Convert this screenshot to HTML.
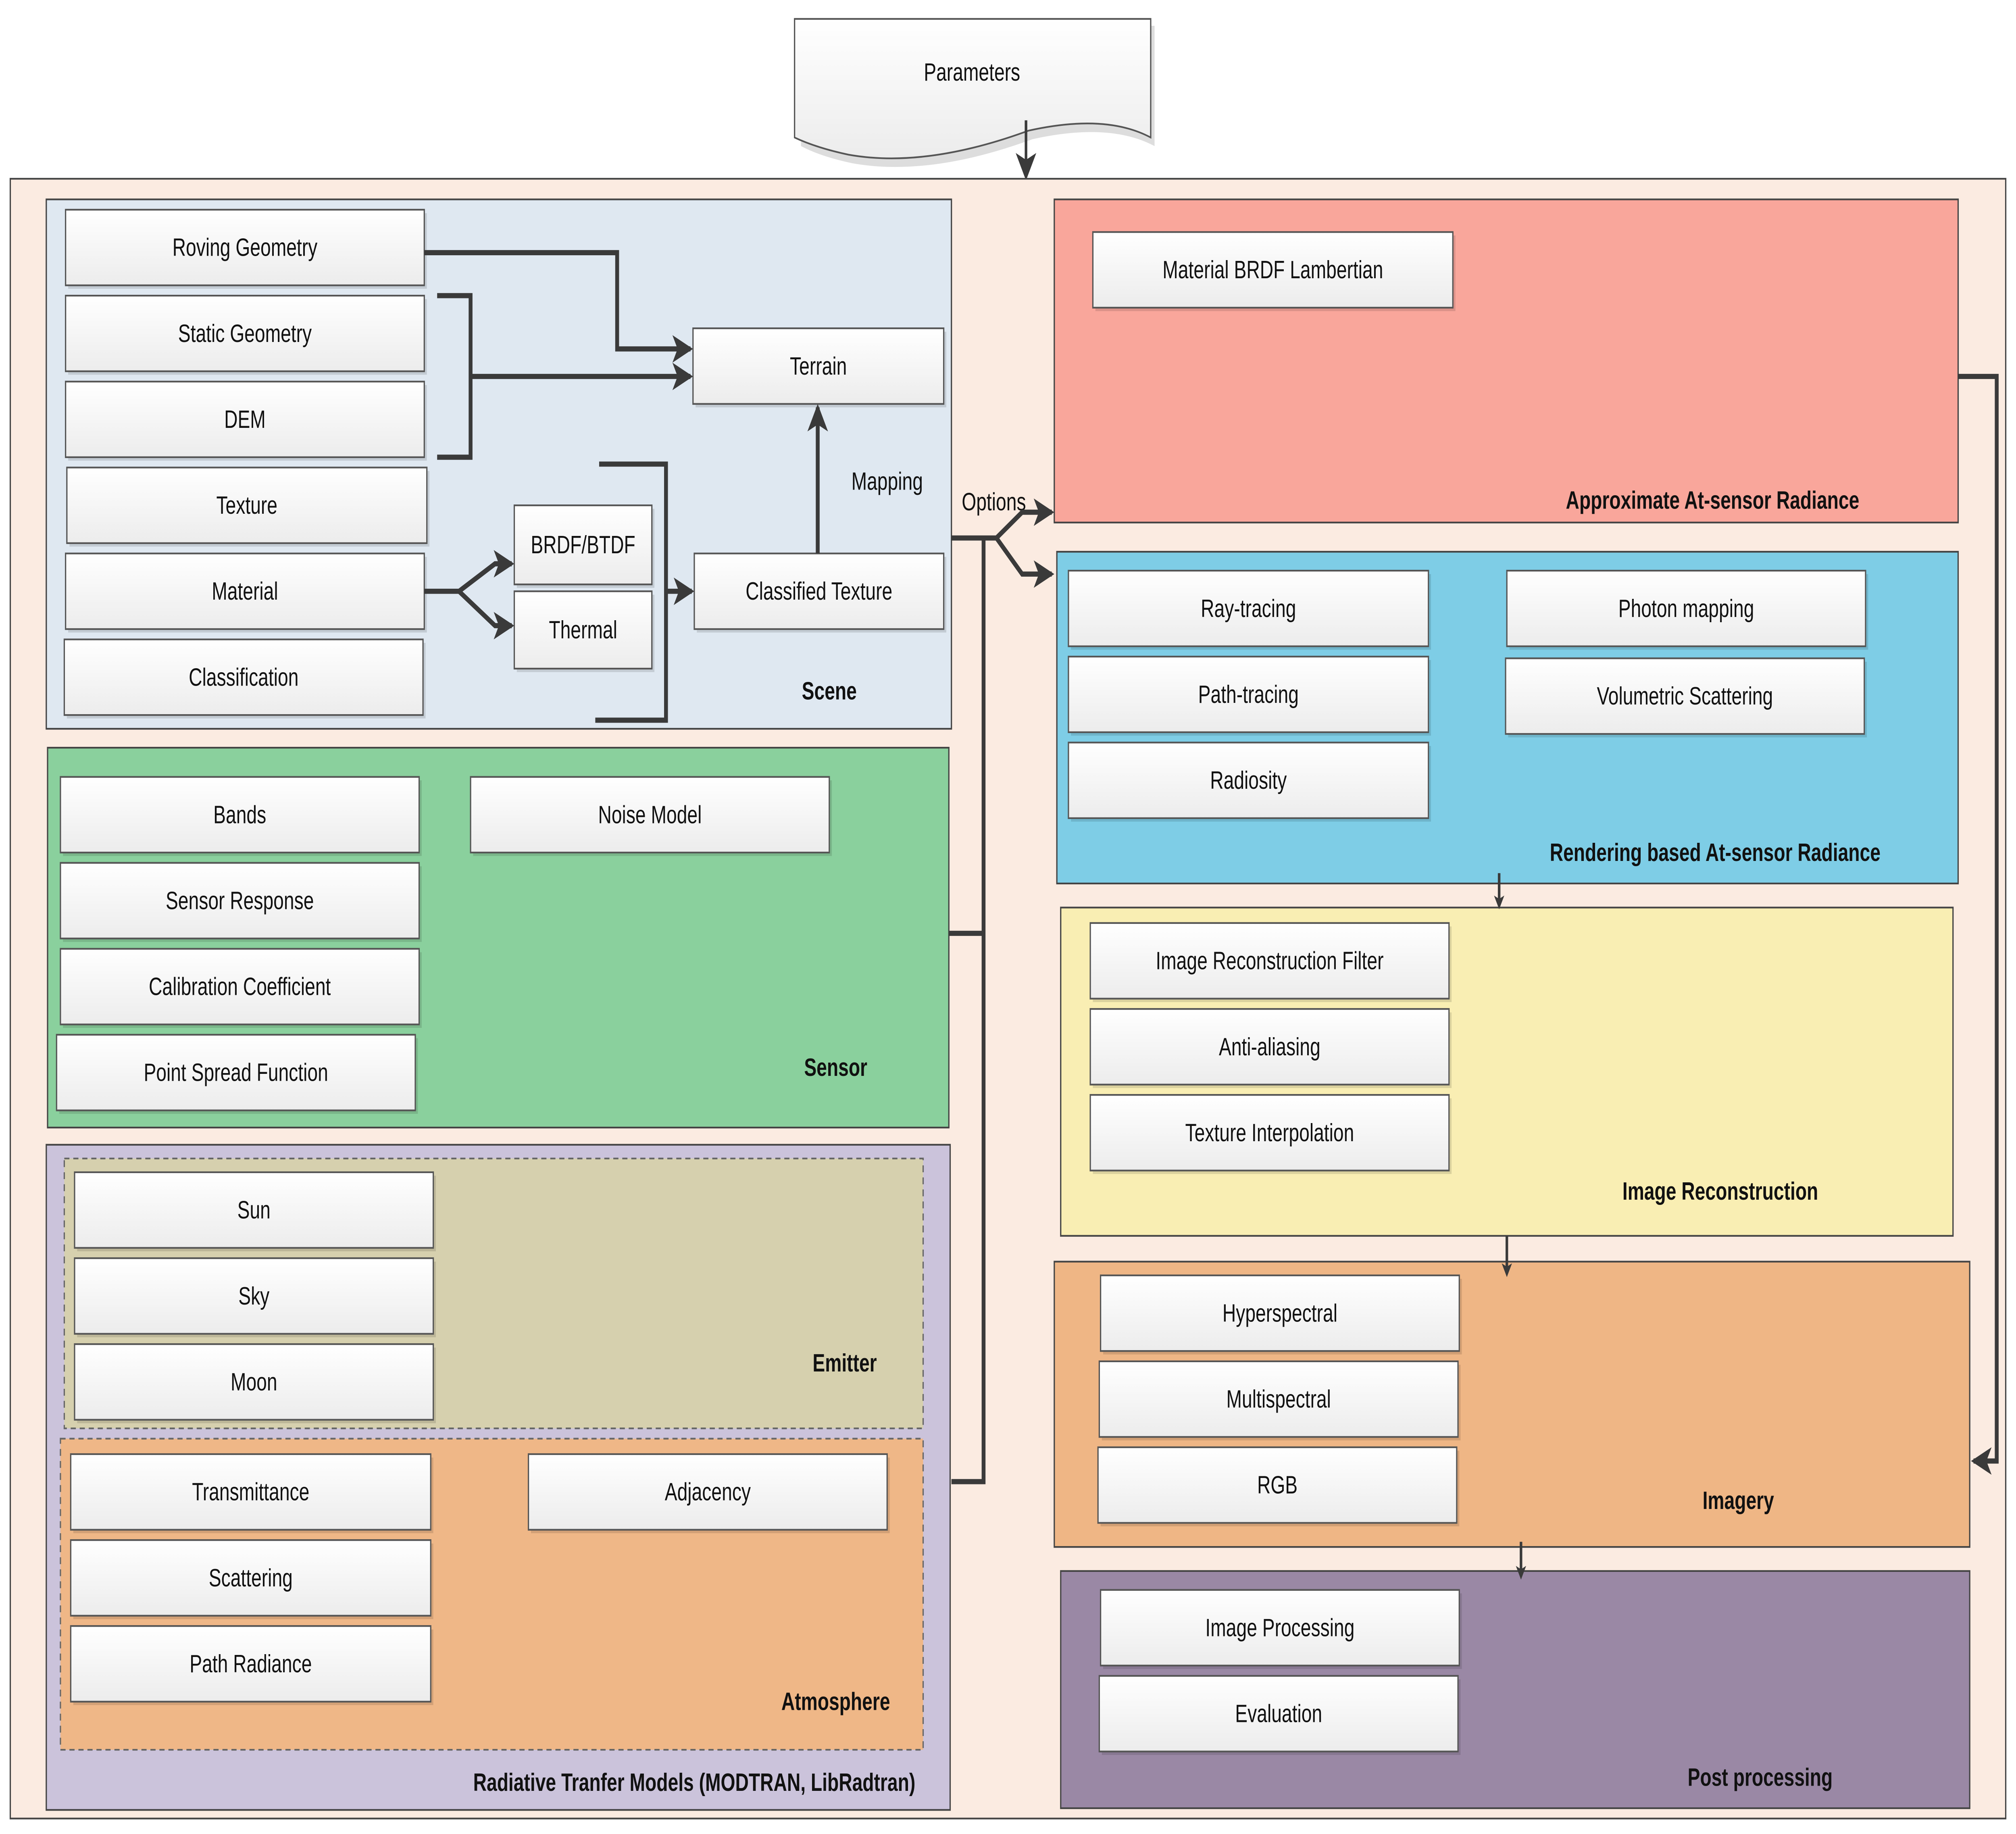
<!DOCTYPE html>
<html><head><meta charset="utf-8">
<style>
html,body{margin:0;padding:0;background:#fff;width:100%;height:100%;overflow:hidden}
svg{display:block;position:fixed;left:0;top:0;width:100vw;height:100vh}
text{font-family:"Liberation Sans",sans-serif;fill:#111}
.t{font-size:14.5px;text-anchor:middle;dominant-baseline:central}
.l{font-size:14.5px;font-weight:bold;text-anchor:middle;dominant-baseline:central}
.ln{stroke:#3a3a3a;stroke-width:3;fill:none}
.th{stroke:#3a3a3a;stroke-width:2;fill:none}
</style></head><body>
<svg viewBox="0 0 1568 1067" preserveAspectRatio="none" xmlns="http://www.w3.org/2000/svg">
<defs>
<linearGradient id="g" x1="0" y1="0" x2="0" y2="1"><stop offset="0" stop-color="#ffffff"/><stop offset="1" stop-color="#ececec"/></linearGradient>
<marker id="a" markerWidth="8" markerHeight="8" refX="6" refY="4" orient="auto" markerUnits="userSpaceOnUse" viewBox="0 0 8 8"><path d="M0,0 L8,4 L0,8 L2,4 Z" fill="#3a3a3a"/></marker>
<marker id="b" markerWidth="16" markerHeight="16" refX="14" refY="8" orient="auto" markerUnits="userSpaceOnUse" viewBox="0 0 16 16"><path d="M0,0 L16,8 L0,16 L4,8 Z" fill="#3a3a3a"/></marker>
</defs>
<path d="M620,12 L895,12 L895,82 Q860,68 800,78 Q720,100 660,92 Q635,88 620,82 Z" fill="#ddd" transform="translate(3,3)"/>
<path d="M618,11 L895,11 L895,80 Q860,66 800,76 Q720,98 660,90 Q635,86 618,80 Z" fill="url(#g)" stroke="#555" stroke-width="1"/>
<text class="t" x="756" y="42">Parameters</text>
<line class="th" x1="798" y1="70" x2="798" y2="103" marker-end="url(#b)"/>
<rect x="8" y="104" width="1552" height="954" fill="#fbebe1" stroke="#444" stroke-width="1"/>
<rect x="36" y="116" width="704" height="308" fill="#dfe8f1" stroke="#444" stroke-width="1"/>
<rect x="37" y="435" width="701" height="221" fill="#8ad09d" stroke="#444" stroke-width="1"/>
<rect x="36" y="666" width="703" height="387" fill="#cbc3db" stroke="#444" stroke-width="1"/>
<rect x="50" y="674" width="668" height="157" fill="#d6d0ae" stroke="#666" stroke-width="1" stroke-dasharray="4,3"/>
<rect x="47" y="837" width="671" height="181" fill="#efb787" stroke="#666" stroke-width="1" stroke-dasharray="4,3"/>
<rect x="820" y="116" width="703" height="188" fill="#f9a69b" stroke="#444" stroke-width="1"/>
<rect x="822" y="321" width="701" height="193" fill="#7ecde6" stroke="#444" stroke-width="1"/>
<rect x="825" y="528" width="694" height="191" fill="#f9eeb3" stroke="#444" stroke-width="1"/>
<rect x="820" y="734" width="712" height="166" fill="#efb685" stroke="#444" stroke-width="1"/>
<rect x="825" y="914" width="707" height="138" fill="#9a88a5" stroke="#444" stroke-width="1"/>
<g>
<g><rect x="53" y="124" width="279" height="44" fill="#000" opacity=".12"/><rect x="51" y="122" width="279" height="44" fill="url(#g)" stroke="#555"/><text class="t" x="190.5" y="144">Roving Geometry</text></g>
<g><rect x="53" y="174" width="279" height="44" fill="#000" opacity=".12"/><rect x="51" y="172" width="279" height="44" fill="url(#g)" stroke="#555"/><text class="t" x="190.5" y="194">Static Geometry</text></g>
<g><rect x="53" y="224" width="279" height="44" fill="#000" opacity=".12"/><rect x="51" y="222" width="279" height="44" fill="url(#g)" stroke="#555"/><text class="t" x="190.5" y="244">DEM</text></g>
<g><rect x="54" y="274" width="280" height="44" fill="#000" opacity=".12"/><rect x="52" y="272" width="280" height="44" fill="url(#g)" stroke="#555"/><text class="t" x="192" y="294">Texture</text></g>
<g><rect x="53" y="324" width="279" height="44" fill="#000" opacity=".12"/><rect x="51" y="322" width="279" height="44" fill="url(#g)" stroke="#555"/><text class="t" x="190.5" y="344">Material</text></g>
<g><rect x="52" y="374" width="279" height="44" fill="#000" opacity=".12"/><rect x="50" y="372" width="279" height="44" fill="url(#g)" stroke="#555"/><text class="t" x="189.5" y="394">Classification</text></g>
<g><rect x="402" y="296" width="107" height="46" fill="#000" opacity=".12"/><rect x="400" y="294" width="107" height="46" fill="url(#g)" stroke="#555"/><text class="t" x="453.5" y="317">BRDF/BTDF</text></g>
<g><rect x="402" y="346" width="107" height="45" fill="#000" opacity=".12"/><rect x="400" y="344" width="107" height="45" fill="url(#g)" stroke="#555"/><text class="t" x="453.5" y="366.5">Thermal</text></g>
<g><rect x="541" y="193" width="195" height="44" fill="#000" opacity=".12"/><rect x="539" y="191" width="195" height="44" fill="url(#g)" stroke="#555"/><text class="t" x="636.5" y="213">Terrain</text></g>
<g><rect x="542" y="324" width="194" height="44" fill="#000" opacity=".12"/><rect x="540" y="322" width="194" height="44" fill="url(#g)" stroke="#555"/><text class="t" x="637" y="344">Classified Texture</text></g>
<g><rect x="49" y="454" width="279" height="44" fill="#000" opacity=".12"/><rect x="47" y="452" width="279" height="44" fill="url(#g)" stroke="#555"/><text class="t" x="186.5" y="474">Bands</text></g>
<g><rect x="49" y="504" width="279" height="44" fill="#000" opacity=".12"/><rect x="47" y="502" width="279" height="44" fill="url(#g)" stroke="#555"/><text class="t" x="186.5" y="524">Sensor Response</text></g>
<g><rect x="49" y="554" width="279" height="44" fill="#000" opacity=".12"/><rect x="47" y="552" width="279" height="44" fill="url(#g)" stroke="#555"/><text class="t" x="186.5" y="574">Calibration Coefficient</text></g>
<g><rect x="46" y="604" width="279" height="44" fill="#000" opacity=".12"/><rect x="44" y="602" width="279" height="44" fill="url(#g)" stroke="#555"/><text class="t" x="183.5" y="624">Point Spread Function</text></g>
<g><rect x="368" y="454" width="279" height="44" fill="#000" opacity=".12"/><rect x="366" y="452" width="279" height="44" fill="url(#g)" stroke="#555"/><text class="t" x="505.5" y="474">Noise Model</text></g>
<g><rect x="60" y="684" width="279" height="44" fill="#000" opacity=".12"/><rect x="58" y="682" width="279" height="44" fill="url(#g)" stroke="#555"/><text class="t" x="197.5" y="704">Sun</text></g>
<g><rect x="60" y="734" width="279" height="44" fill="#000" opacity=".12"/><rect x="58" y="732" width="279" height="44" fill="url(#g)" stroke="#555"/><text class="t" x="197.5" y="754">Sky</text></g>
<g><rect x="60" y="784" width="279" height="44" fill="#000" opacity=".12"/><rect x="58" y="782" width="279" height="44" fill="url(#g)" stroke="#555"/><text class="t" x="197.5" y="804">Moon</text></g>
<g><rect x="57" y="848" width="280" height="44" fill="#000" opacity=".12"/><rect x="55" y="846" width="280" height="44" fill="url(#g)" stroke="#555"/><text class="t" x="195" y="868">Transmittance</text></g>
<g><rect x="57" y="898" width="280" height="44" fill="#000" opacity=".12"/><rect x="55" y="896" width="280" height="44" fill="url(#g)" stroke="#555"/><text class="t" x="195" y="918">Scattering</text></g>
<g><rect x="57" y="948" width="280" height="44" fill="#000" opacity=".12"/><rect x="55" y="946" width="280" height="44" fill="url(#g)" stroke="#555"/><text class="t" x="195" y="968">Path Radiance</text></g>
<g><rect x="413" y="848" width="279" height="44" fill="#000" opacity=".12"/><rect x="411" y="846" width="279" height="44" fill="url(#g)" stroke="#555"/><text class="t" x="550.5" y="868">Adjacency</text></g>
<g><rect x="852" y="137" width="280" height="44" fill="#000" opacity=".12"/><rect x="850" y="135" width="280" height="44" fill="url(#g)" stroke="#555"/><text class="t" x="990" y="157">Material BRDF Lambertian</text></g>
<g><rect x="833" y="334" width="280" height="44" fill="#000" opacity=".12"/><rect x="831" y="332" width="280" height="44" fill="url(#g)" stroke="#555"/><text class="t" x="971" y="354">Ray-tracing</text></g>
<g><rect x="833" y="384" width="280" height="44" fill="#000" opacity=".12"/><rect x="831" y="382" width="280" height="44" fill="url(#g)" stroke="#555"/><text class="t" x="971" y="404">Path-tracing</text></g>
<g><rect x="833" y="434" width="280" height="44" fill="#000" opacity=".12"/><rect x="831" y="432" width="280" height="44" fill="url(#g)" stroke="#555"/><text class="t" x="971" y="454">Radiosity</text></g>
<g><rect x="1174" y="334" width="279" height="44" fill="#000" opacity=".12"/><rect x="1172" y="332" width="279" height="44" fill="url(#g)" stroke="#555"/><text class="t" x="1311.5" y="354">Photon mapping</text></g>
<g><rect x="1173" y="385" width="279" height="44" fill="#000" opacity=".12"/><rect x="1171" y="383" width="279" height="44" fill="url(#g)" stroke="#555"/><text class="t" x="1310.5" y="405">Volumetric Scattering</text></g>
<g><rect x="850" y="539" width="279" height="44" fill="#000" opacity=".12"/><rect x="848" y="537" width="279" height="44" fill="url(#g)" stroke="#555"/><text class="t" x="987.5" y="559">Image Reconstruction Filter</text></g>
<g><rect x="850" y="589" width="279" height="44" fill="#000" opacity=".12"/><rect x="848" y="587" width="279" height="44" fill="url(#g)" stroke="#555"/><text class="t" x="987.5" y="609">Anti-aliasing</text></g>
<g><rect x="850" y="639" width="279" height="44" fill="#000" opacity=".12"/><rect x="848" y="637" width="279" height="44" fill="url(#g)" stroke="#555"/><text class="t" x="987.5" y="659">Texture Interpolation</text></g>
<g><rect x="858" y="744" width="279" height="44" fill="#000" opacity=".12"/><rect x="856" y="742" width="279" height="44" fill="url(#g)" stroke="#555"/><text class="t" x="995.5" y="764">Hyperspectral</text></g>
<g><rect x="857" y="794" width="279" height="44" fill="#000" opacity=".12"/><rect x="855" y="792" width="279" height="44" fill="url(#g)" stroke="#555"/><text class="t" x="994.5" y="814">Multispectral</text></g>
<g><rect x="856" y="844" width="279" height="44" fill="#000" opacity=".12"/><rect x="854" y="842" width="279" height="44" fill="url(#g)" stroke="#555"/><text class="t" x="993.5" y="864">RGB</text></g>
<g><rect x="858" y="927" width="279" height="44" fill="#000" opacity=".12"/><rect x="856" y="925" width="279" height="44" fill="url(#g)" stroke="#555"/><text class="t" x="995.5" y="947">Image Processing</text></g>
<g><rect x="857" y="977" width="279" height="44" fill="#000" opacity=".12"/><rect x="855" y="975" width="279" height="44" fill="url(#g)" stroke="#555"/><text class="t" x="994.5" y="997">Evaluation</text></g>
</g>
<text class="l" x="645" y="402">Scene</text>
<text class="l" x="650" y="621">Sensor</text>
<text class="l" x="657" y="793">Emitter</text>
<text class="l" x="650" y="990">Atmosphere</text>
<text class="l" x="540" y="1037">Radiative Tranfer Models (MODTRAN, LibRadtran)</text>
<text class="l" x="1332" y="291">Approximate At-sensor Radiance</text>
<text class="l" x="1334" y="496">Rendering based At-sensor Radiance</text>
<text class="l" x="1338" y="693">Image Reconstruction</text>
<text class="l" x="1352" y="873">Imagery</text>
<text class="l" x="1369" y="1034">Post processing</text>
<text class="t" x="690" y="280">Mapping</text>
<text class="t" x="773" y="292">Options</text>
<polyline class="ln" points="330,147 480,147 480,203 537,203" marker-end="url(#b)"/>
<polyline class="ln" points="340,172 366,172 366,266 340,266"/>
<line class="ln" x1="366" y1="219" x2="537" y2="219" marker-end="url(#b)"/>
<polyline class="ln" points="330,344 357,344 385,328 398,328" marker-end="url(#b)"/>
<polyline class="ln" points="357,344 385,364 398,364" marker-end="url(#b)"/>
<polyline class="ln" points="466,270 518,270 518,419 463,419"/>
<line class="ln" x1="518" y1="344" x2="538" y2="344" marker-end="url(#b)"/>
<line class="ln" x1="636" y1="322" x2="636" y2="237" marker-end="url(#b)"/>
<polyline class="ln" points="740,313 775,313"/>
<polyline class="ln" points="765,313 765,862 740,862"/>
<line class="ln" x1="738" y1="543" x2="765" y2="543"/>
<polyline class="ln" points="775,313 795,298 818,298" marker-end="url(#b)"/>
<polyline class="ln" points="775,313 795,334 818,334" marker-end="url(#b)"/>
<line class="th" x1="1166" y1="508" x2="1166" y2="527" marker-end="url(#a)"/>
<line class="th" x1="1172" y1="719" x2="1172" y2="741" marker-end="url(#a)"/>
<line class="th" x1="1183" y1="897" x2="1183" y2="917" marker-end="url(#a)"/>
<polyline class="ln" points="1523,219 1553,219 1553,850 1535,850" marker-end="url(#b)"/>
</svg>
</body></html>
